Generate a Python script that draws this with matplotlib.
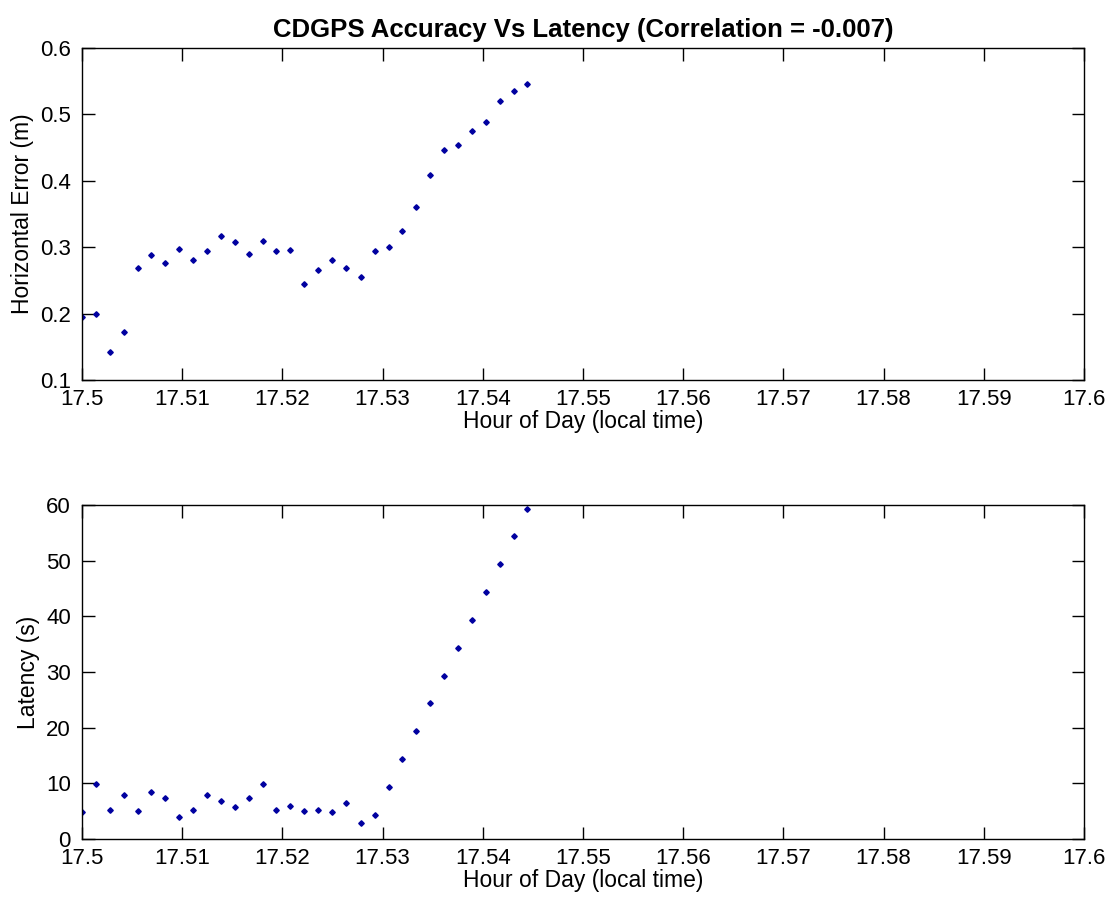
import numpy as np
import matplotlib
matplotlib.use('Agg')
import matplotlib.pyplot as plt

plt.rcParams['font.family'] = ['Liberation Sans', 'DejaVu Sans']

# time stamps (hour of day), one sample every 5 s
hours = [17.5000, 17.5014, 17.5028, 17.5042, 17.5056, 17.5069, 17.5083,
         17.5097, 17.5111, 17.5125, 17.5139, 17.5153, 17.5167, 17.5181,
         17.5194, 17.5208, 17.5222, 17.5236, 17.5250, 17.5264, 17.5278,
         17.5292, 17.5306, 17.5319, 17.5333, 17.5347, 17.5361, 17.5375,
         17.5389, 17.5403, 17.5417, 17.5431, 17.5444]

hor_error = [0.195, 0.200, 0.142, 0.173, 0.269, 0.289, 0.276, 0.297, 0.281,
             0.294, 0.317, 0.308, 0.290, 0.310, 0.294, 0.296, 0.245, 0.265,
             0.281, 0.269, 0.255, 0.294, 0.300, 0.325, 0.360, 0.409, 0.447,
             0.454, 0.475, 0.489, 0.521, 0.535, 0.546]

latency = [4.9, 9.9, 5.2, 8.0, 5.0, 8.4, 7.4, 3.9, 5.2, 8.0, 6.9, 5.8, 7.4,
           9.9, 5.2, 6.0, 5.0, 5.2, 4.9, 6.4, 2.9, 4.3, 9.3, 14.4, 19.4,
           24.4, 29.3, 34.3, 39.3, 44.3, 49.4, 54.4, 59.2]

xticks = [17.5, 17.51, 17.52, 17.53, 17.54, 17.55, 17.56, 17.57, 17.58, 17.59, 17.6]
xticklabels = ['17.5', '17.51', '17.52', '17.53', '17.54', '17.55', '17.56',
               '17.57', '17.58', '17.59', '17.6']

fig = plt.figure(figsize=(11.2, 9.02), dpi=100)
ax1 = fig.add_axes([0.0732, 0.5787, 0.8946, 0.368])
ax2 = fig.add_axes([0.0732, 0.0698, 0.8946, 0.3703])

dot_color = '#0000A0'

ax1.plot(hours, hor_error, linestyle='none', marker='D', markersize=2.8,
         color=dot_color)
ax1.set_ylim(0.1, 0.6)
ax1.set_yticks([0.1, 0.2, 0.3, 0.4, 0.5, 0.6])
ax1.set_ylabel('Horizontal Error (m)', fontsize=16.5, labelpad=4)
ax1.set_title('CDGPS Accuracy Vs Latency (Correlation = -0.007)',
              fontsize=18.5, fontweight='bold', pad=8)

ax2.plot(hours, latency, linestyle='none', marker='D', markersize=2.8,
         color=dot_color)
ax2.set_ylim(0, 60)
ax2.set_yticks([0, 10, 20, 30, 40, 50, 60])
ax2.set_ylabel('Latency (s)', fontsize=16.5, labelpad=4)

for ax in (ax1, ax2):
    ax.set_xlim(17.5, 17.6)
    ax.set_xticks(xticks)
    ax.set_xticklabels(xticklabels)
    ax.set_xlabel('Hour of Day (local time)', fontsize=16.5, labelpad=0)
    ax.tick_params(direction='in', top=True, right=True, length=9,
                   width=1, labelsize=16)
    ax.tick_params(axis='x', pad=6.5)
    ax.tick_params(axis='y', pad=8)
    for s in ax.spines.values():
        s.set_linewidth(1)

fig.savefig('out.png', dpi=100)
